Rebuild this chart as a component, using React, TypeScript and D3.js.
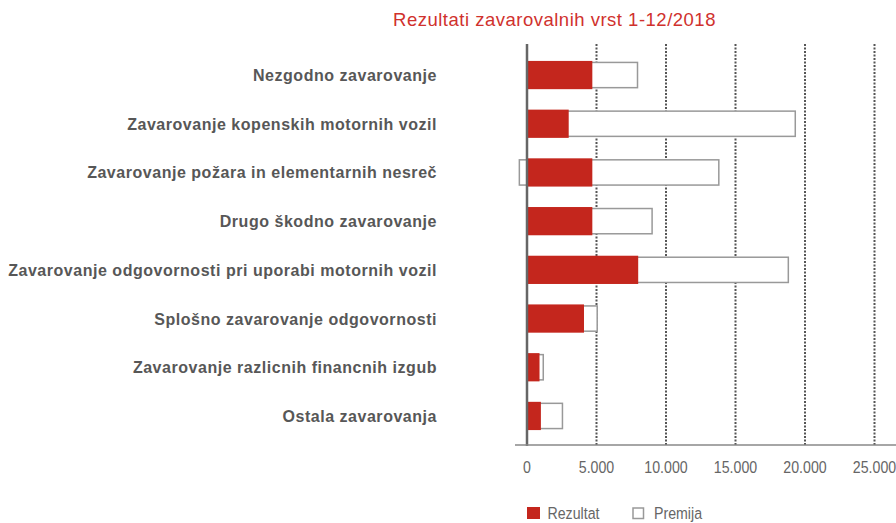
import React from "react";
import * as d3 from "d3";

const categories = [
  "Nezgodno zavarovanje",
  "Zavarovanje kopenskih motornih vozil",
  "Zavarovanje požara in elementarnih nesreč",
  "Drugo škodno zavarovanje",
  "Zavarovanje odgovornosti pri uporabi motornih vozil",
  "Splošno zavarovanje odgovornosti",
  "Zavarovanje razlicnih financnih izgub",
  "Ostala zavarovanja",
];
const rezultat = [4700, 3000, 4700, 4700, 8000, 4100, 900, 1000];
const premija = [7950, 19300, 13800, 9000, 18800, 5050, 1170, 2550];
const premijaStart = [0, 0, -550, 0, 0, 0, 0, 0];
const ticks = [0, 5000, 10000, 15000, 20000, 25000];
const tickLabels = ["0", "5.000", "10.000", "15.000", "20.000", "25.000"];
const title = "Rezultati zavarovalnih vrst 1-12/2018";
const legendLabels = ["Rezultat", "Premija"];

const W = 896;
const H = 523;
const RED = "#c4261d";
const sans = "'Liberation Sans', Arial, sans-serif";

function Narrow(props: {
  x: number;
  y: number;
  anchor?: "start" | "middle" | "end";
  children: React.ReactNode;
}) {
  return (
    <text
      transform={`translate(${props.x},${props.y}) scale(0.86,1)`}
      textAnchor={props.anchor || "start"}
      fontFamily={sans}
      fontSize={16.5}
      fill="#666"
    >
      {props.children}
    </text>
  );
}

export default function App() {
  const x = d3.scaleLinear().domain([0, 25000]).range([527, 874.5]);
  const y = d3
    .scaleBand<string>()
    .domain(categories)
    .range([50.7, 440.3])
    .paddingInner(0.42)
    .paddingOuter(0.21);
  const bw = y.bandwidth();
  const top = 44;
  const base = 445;
  return (
    <svg
      width={W}
      height={H}
      style={{ position: "absolute", left: 0, top: 0, background: "#fff" }}
    >
      <text
        x={554.5}
        y={25.7}
        textAnchor="middle"
        fontFamily={sans}
        fontSize={18.5}
        letterSpacing={0.5}
        fill="#d0312d"
      >
        {title}
      </text>
      {ticks.slice(1).map((t) => (
        <line
          key={t}
          x1={x(t)}
          x2={x(t)}
          y1={top}
          y2={base}
          stroke="#555"
          strokeWidth={2}
          strokeDasharray="2 1.5"
        />
      ))}
      {categories.map((c, i) => {
        const yy = y(c)!;
        const x0 = x(premijaStart[i]);
        return (
          <g key={c}>
            <rect
              x={x0}
              y={yy + 1.5}
              width={x(premija[i]) - x0}
              height={bw - 3}
              fill="#fff"
              stroke="#999"
              strokeWidth={1.5}
            />
            <rect
              x={x(0)}
              y={yy}
              width={x(rezultat[i]) - x(0)}
              height={bw}
              fill={RED}
            />
            <text
              x={437}
              y={yy + bw / 2 + 6}
              textAnchor="end"
              fontFamily={sans}
              fontSize={16}
              fontWeight="bold"
              letterSpacing={0.53}
              fill="#575757"
            >
              {c}
            </text>
          </g>
        );
      })}
      <line x1={x(0)} x2={x(0)} y1={top} y2={base + 1} stroke="#666" strokeWidth={2.5} />
      <line x1={515} x2={W} y1={base} y2={base} stroke="#888" strokeWidth={1.5} />
      {ticks.map((t, i) => (
        <Narrow key={t} x={x(t)} y={473.3} anchor="middle">
          {tickLabels[i]}
        </Narrow>
      ))}
      <rect x={527} y={507} width={13} height={12} fill={RED} />
      <Narrow x={547.5} y={519}>{legendLabels[0]}</Narrow>
      <rect x={633} y={508} width={10.5} height={10.5} fill="#fff" stroke="#999" strokeWidth={1.5} />
      <Narrow x={654} y={519}>{legendLabels[1]}</Narrow>
    </svg>
  );
}
